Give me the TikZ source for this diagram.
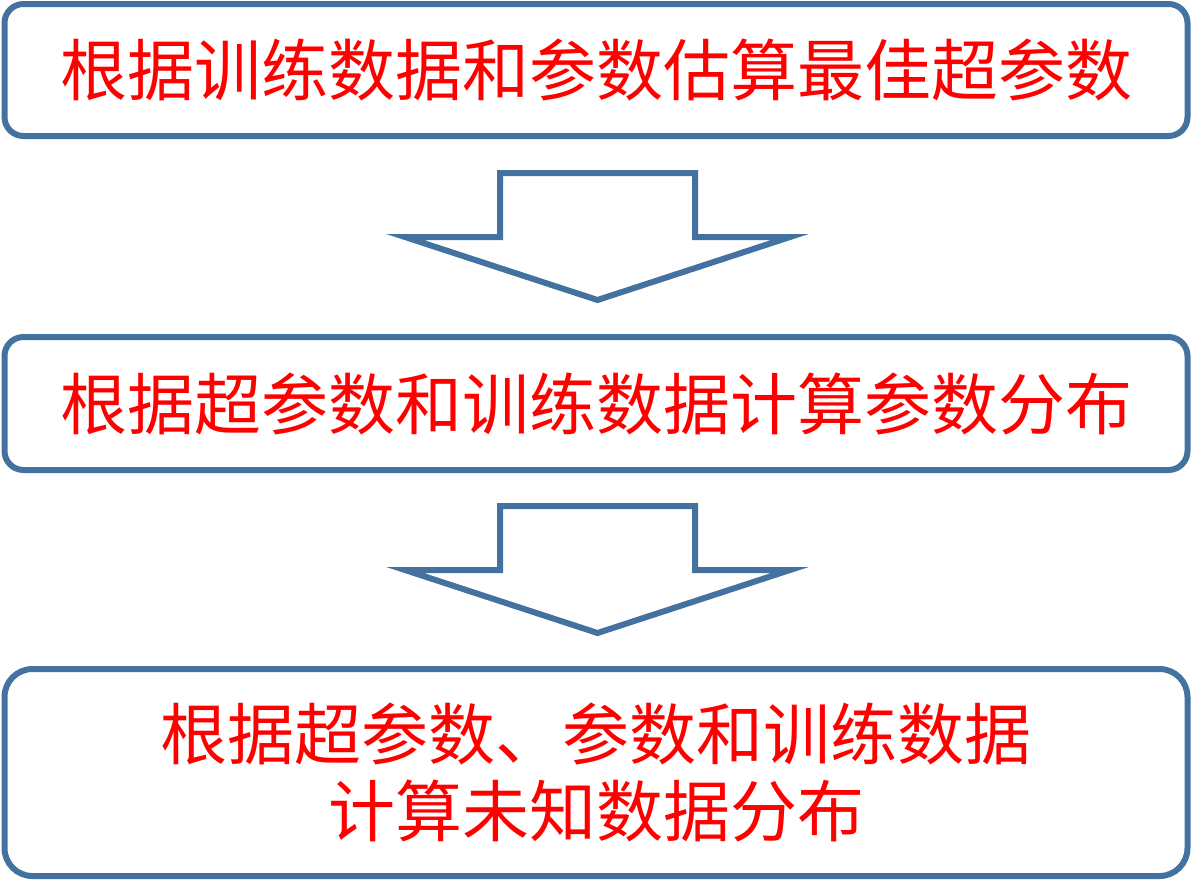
\documentclass[tikz,border=0pt]{standalone}
\usepackage{fontspec}
\newfontfamily\cjk{Noto Sans CJK SC}
\usepackage{tikz}
\definecolor{bord}{RGB}{68,114,160}
\tikzset{
	bx/.style={draw=bord, line width=6pt, rounded corners=19pt, minimum width=1183pt, inner sep=0pt, text=red, font=\cjk\fontsize{67}{77}\selectfont},
	arr/.style={draw=bord, line width=6pt, miter limit=10},
}

\begin{document}
\begin{tikzpicture}[x=1pt,y=-1pt]
	\useasboundingbox (0,0) rectangle (1191,889);

	\node [bx, minimum height=132pt] (hyper) at (596,70) {根据训练数据和参数估算最佳超参数};
	\node [bx, minimum height=133pt] (param) at (596,403.5) {根据超参数和训练数据计算参数分布};
	\node [bx, minimum height=207pt, rounded corners=28pt, align=center] (pred) at (596,772.5) {根据超参数、参数和训练数据\\计算未知数据分布};

	\foreach \s in {0,333}
		\draw [arr, shift={(0,\s)}] (500,173) -- (695,173) -- (695,237) -- (790,237) -- (597.5,300) -- (405,237) -- (500,237) -- cycle;
\end{tikzpicture}
\end{document}
